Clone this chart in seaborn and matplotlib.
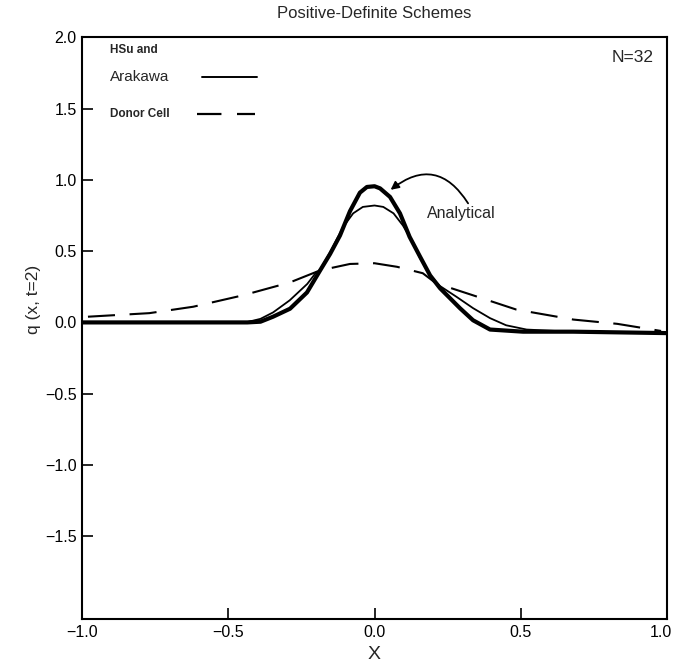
import matplotlib
matplotlib.use("Agg")
import matplotlib.pyplot as plt
import matplotlib.transforms as mtransforms
from matplotlib.lines import Line2D
import seaborn as sns

# ---- data ----
x_analytic = [-1.0, -0.6, -0.435, -0.39, -0.347, -0.289, -0.231, -0.186, -0.152, -0.118,
              -0.084, -0.05, -0.026, 0.0, 0.019, 0.053, 0.087, 0.12, 0.156, 0.19,
              0.224, 0.258, 0.292, 0.337, 0.395, 0.508, 0.68, 1.0]
q_analytic = [0.0, 0.0, 0.0, 0.005, 0.04, 0.096, 0.21, 0.365, 0.48, 0.61,
              0.78, 0.91, 0.95, 0.955, 0.94, 0.88, 0.765, 0.60, 0.46, 0.33,
              0.24, 0.17, 0.10, 0.015, -0.05, -0.065, -0.065, -0.075]

x_hsu = [-1.0, -0.6, -0.44, -0.39, -0.347, -0.29, -0.23, -0.2, -0.186, -0.15,
         -0.107, -0.073, -0.04, 0.0, 0.03, 0.065, 0.097, 0.132, 0.156, 0.19,
         0.224, 0.28, 0.337, 0.395, 0.45, 0.52, 0.62, 1.0]
q_hsu = [0.0, 0.0, 0.0, 0.025, 0.07, 0.155, 0.27, 0.35, 0.37, 0.50,
         0.67, 0.765, 0.81, 0.82, 0.81, 0.765, 0.68, 0.56, 0.45, 0.33,
         0.255, 0.18, 0.10, 0.03, -0.02, -0.05, -0.06, -0.075]

x_donor = [-0.98, -0.77, -0.62, -0.45, -0.29, -0.186, -0.084, 0.0, 0.077, 0.165,
           0.21, 0.337, 0.485, 0.68, 0.83, 0.98]
q_donor = [0.04, 0.065, 0.11, 0.19, 0.28, 0.365, 0.41, 0.415, 0.39, 0.345,
           0.275, 0.19, 0.09, 0.02, -0.01, -0.06]

title = "Positive-Definite Schemes"
x_ticks = [-1.0, -0.5, 0.0, 0.5, 1.0]
y_ticks = [-1.5, -1.0, -0.5, 0.0, 0.5, 1.0, 1.5, 2.0]

sns.set_style("ticks")
plt.rcParams["font.family"] = ["Liberation Sans", "DejaVu Sans"]

fig = plt.figure(figsize=(6.73, 6.71), dpi=100)
ax = fig.add_axes([0.122, 0.0775, 0.869, 0.867])

sns.lineplot(x=x_analytic, y=q_analytic, ax=ax, color="black", linewidth=3.0,
             estimator=None, sort=True)
sns.lineplot(x=x_hsu, y=q_hsu, ax=ax, color="black", linewidth=1.3,
             estimator=None, sort=True)
sns.lineplot(x=x_donor, y=q_donor, ax=ax, color="black", linewidth=1.5,
             estimator=None, sort=True)
for ln in ax.lines:
    ln.set_solid_joinstyle("round")
    ln.set_solid_capstyle("round")
ax.lines[-1].set_dashes([13, 7])

ax.set_xlim(-1.0, 1.0)
ax.set_ylim(-2.08, 2.0)
ax.set_xticks(x_ticks)
ax.set_yticks(y_ticks)
ax.set_xticklabels([f"{t:.1f}".replace("-", "\u2212") for t in x_ticks])
ax.set_yticklabels([f"{t:.1f}".replace("-", "\u2212") for t in y_ticks])
ax.tick_params(direction="in", length=8, width=1.2, labelsize=11.5, colors="black",
               top=False, right=False, pad=4)
for s in ax.spines.values():
    s.set_linewidth(1.5)
    s.set_color("black")

# keep the last x tick label inside the figure, as in the reference
lab = ax.get_xticklabels()[-1]
lab.set_transform(lab.get_transform() + mtransforms.ScaledTranslation(-6 / 100, 0, fig.dpi_scale_trans))

ax.set_xlabel("X", fontsize=14, labelpad=5)
ax.set_ylabel("q (x, t=2)", fontsize=12.5)
ax.yaxis.set_label_coords(-0.07, 0.55)
ax.set_title(title, fontsize=12, pad=14)

ax.text(0.977, 0.965, "N=32", transform=ax.transAxes, ha="right", va="center", fontsize=12.5)

# hand-made legend (labels left of keys)
ax.text(0.048, 0.978, "HSu and", transform=ax.transAxes, ha="left", va="center",
        fontsize=8.5, fontweight="bold")
ax.text(0.048, 0.931, "Arakawa", transform=ax.transAxes, ha="left", va="center", fontsize=11)
ax.add_line(Line2D([0.205, 0.299], [0.931, 0.931], transform=ax.transAxes,
                   color="black", lw=1.4))
ax.text(0.048, 0.868, "Donor Cell", transform=ax.transAxes, ha="left", va="center",
        fontsize=8.5, fontweight="bold")
ax.add_line(Line2D([0.197, 0.295], [0.868, 0.868], transform=ax.transAxes,
                   color="black", lw=1.6, dashes=[11, 7]))

ax.text(0.18, 0.765, "Analytical", fontsize=11.5, ha="left", va="center")
ax.annotate("", xy=(0.055, 0.93), xytext=(0.32, 0.835),
            arrowprops=dict(arrowstyle="-|>", color="black", lw=1.3,
                            connectionstyle="arc3,rad=0.55", mutation_scale=12,
                            shrinkA=0, shrinkB=0))

fig.savefig("out.png", dpi=100)
